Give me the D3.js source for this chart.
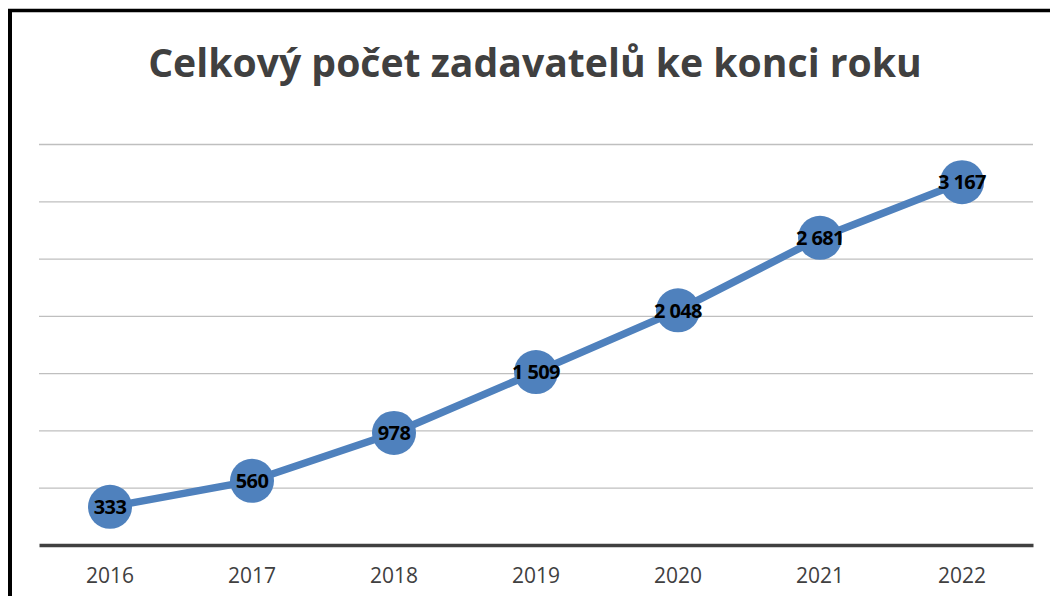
<!DOCTYPE html>
<html><head><meta charset="utf-8">
<script src="https://cdn.jsdelivr.net/npm/d3@7"></script>
<style>html,body{margin:0;padding:0;background:#fff;}svg{display:block;}</style>
</head><body>
<svg id="c" width="1050" height="596"></svg>
<script>
const title = "Celkový počet zadavatelů ke konci roku";
const years = ["2016","2017","2018","2019","2020","2021","2022"];
const values = [333, 560, 978, 1509, 2048, 2681, 3167];
const labels = ["333","560","978","1 509","2 048","2 681","3 167"];
const yTicks = [0, 500, 1000, 1500, 2000, 2500, 3000, 3500];

const svg = d3.select("#c");
const W = 1050, H = 596;
const plot = {left: 39, right: 1033, top: 144, bottom: 545};

// frame
svg.append("line").attr("x1",10).attr("x2",10).attr("y1",9).attr("y2",H).attr("stroke","#000").attr("stroke-width",4);
svg.append("line").attr("x1",8).attr("x2",W).attr("y1",10.5).attr("y2",10.5).attr("stroke","#000").attr("stroke-width",3.5);

// title
const t = svg.append("text").attr("x",535).attr("y",77).attr("text-anchor","middle")
  .attr("font-family","'Open Sans', sans-serif").attr("font-weight","bold")
  .attr("font-size",38).attr("fill","#404040").text(title);
const tw = t.node().getComputedTextLength();
t.attr("font-size", 38 * 774 / tw);

const x = d3.scaleBand().domain(years).range([plot.left, plot.right]);
const y = d3.scaleLinear().domain([0, 3500]).range([plot.bottom, plot.top]);

// gridlines
const grid = d3.axisLeft(y).tickValues(yTicks.filter(v => v > 0)).tickSize(-(plot.right-plot.left)).tickFormat("");
const g = svg.append("g").attr("transform",`translate(${plot.left},0)`).call(grid);
g.select(".domain").remove();
g.selectAll(".tick line").attr("stroke","#bfbfbf").attr("stroke-width",1.3);

// x axis
const xa = svg.append("g").attr("transform",`translate(0,${plot.bottom})`).call(d3.axisBottom(x).tickSize(0).tickPadding(23));
xa.select(".domain").attr("stroke","#404040").attr("stroke-width",3.5);
xa.selectAll("text").attr("font-family","'Open Sans', sans-serif").attr("font-size",21).attr("fill","#404040");

// line
const cx = d => x(d) + x.bandwidth()/2;
const line = d3.line().x((d,i) => cx(years[i])).y(d => y(d));
svg.append("path").datum(values).attr("d",line).attr("fill","none").attr("stroke","#4f81bd").attr("stroke-width",7.5).attr("stroke-linejoin","round");

svg.selectAll("circle.m").data(values).join("circle").attr("class","m")
  .attr("cx",(d,i)=>cx(years[i])).attr("cy",d=>y(d)).attr("r",22).attr("fill","#4f81bd");

svg.selectAll("text.lbl").data(values).join("text").attr("class","lbl")
  .attr("x",(d,i)=>cx(years[i])).attr("y",d=>y(d)).attr("dy","0.36em").attr("text-anchor","middle")
  .attr("font-family","'Open Sans', sans-serif").attr("font-weight","bold").attr("font-size",20).attr("fill","#000")
  .attr("letter-spacing","-0.6")
  .text((d,i)=>labels[i]);
</script>
</body></html>
